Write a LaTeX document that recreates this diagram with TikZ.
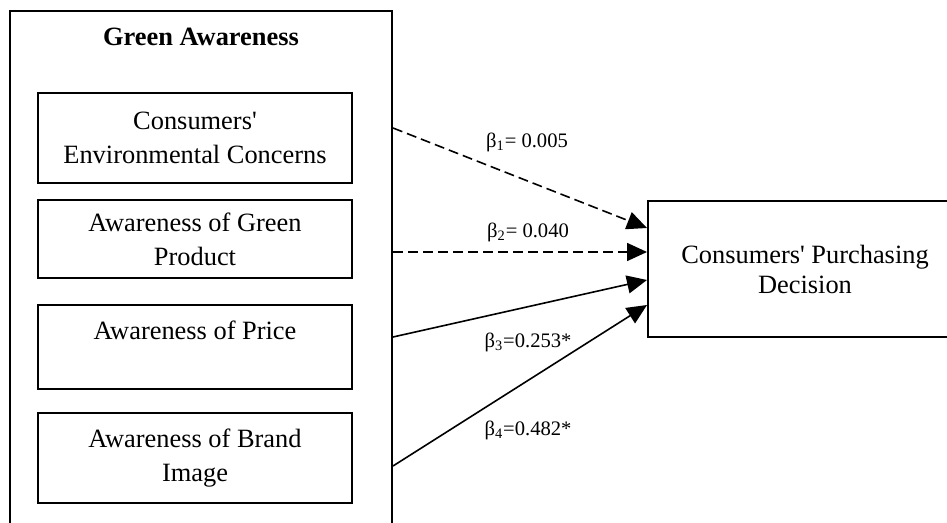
\documentclass[tikz,border=0pt]{standalone}
\usepackage{fontspec}
\setmainfont{Liberation Serif}
\newlength{\vdist}
\newlength{\vdistlong}
\usetikzlibrary{positioning}
\usetikzlibrary{arrows.meta}
\tikzstyle{frame}=[draw, rectangle, line width=1pt, inner sep=0pt]
\tikzstyle{factor}=[draw, rectangle, line width=1pt, inner sep=0pt, minimum width=157pt, align=center, font=\fontsize{13.2}{17}\selectfont]
\tikzstyle{coef}=[inner sep=0pt, font=\fontsize{10.3}{12}\selectfont]
\tikzstyle{ns}=[dash pattern=on 5pt off 2.5pt]

\begin{document}
\begin{tikzpicture}[x=0.5pt, y=-0.5pt, line width=0.8pt, -{Triangle[length=10pt, width=9pt]}]

				\useasboundingbox (0,0) rectangle (947,523);
				\clip (0,0) rectangle (947,523);

				\setlength{\vdist}{7.5pt}
				\setlength{\vdistlong}{11pt}

				\node (aware) [frame, anchor=north west, minimum width=191pt, minimum height=275pt] at (9,10) {};
				\node (title) [font=\bfseries\fontsize{13.2}{16}\selectfont] at ([yshift=-13.5pt]aware.north) {Green Awareness};
				%
				\node (env) [factor, anchor=north west, minimum height=45pt] at ([xshift=14pt, yshift=-41pt]aware.north west) {Consumers\textquotesingle\\Environmental Concerns};
				\node (prod) [factor, minimum height=39pt, below=\vdist of env] {Awareness of Green\\Product};
				\node (price) [factor, minimum height=42pt, below=12.5pt of prod] {Awareness of Price\\\mbox{}};
				\node (brand) [factor, minimum height=45pt, below=\vdistlong of price] {Awareness of Brand\\Image};

				\node (decision) [factor, anchor=north west, minimum height=68pt, font=\fontsize{13.2}{15}\selectfont] at ([xshift=127pt, yshift=-95pt]aware.north east) {Consumers\textquotesingle{} Purchasing\\Decision};

				\coordinate (s1) at ([yshift=-59pt]aware.north east);
				\coordinate (s2) at ([yshift=-121pt]aware.north east);
				\coordinate (s3) at ([yshift=-163.5pt]aware.north east);
				\coordinate (s4) at ([yshift=-228pt]aware.north east);
				\coordinate (t1) at ([yshift=-14pt]decision.north west);
				\coordinate (t2) at ([yshift=-26pt]decision.north west);
				\coordinate (t3) at ([yshift=-40pt]decision.north west);
				\coordinate (t4) at ([yshift=-52.5pt]decision.north west);

				\node (b1) [coef] at (527,142) {β\textsubscript{1}= 0.005};
				\node (b2) [coef] at (528,232) {β\textsubscript{2}= 0.040};
				\node (b3) [coef] at (528,342) {β\textsubscript{3}=0.253*};
				\node (b4) [coef] at (528,430) {β\textsubscript{4}=0.482*};

				\draw [ns] (s1) to (t1);
				\draw [ns] (s2) to (t2);
				\draw (s3) to (t3);
				\draw (s4) to (t4);
				\end{tikzpicture}
\end{document}
